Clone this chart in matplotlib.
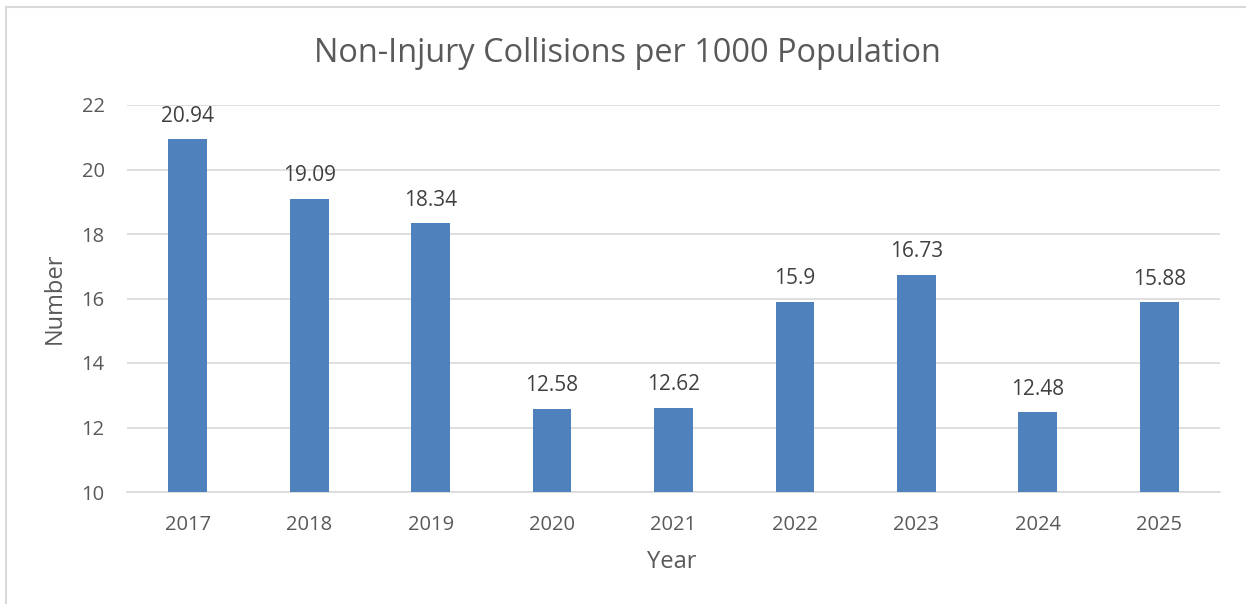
import matplotlib
matplotlib.use("Agg")
import matplotlib.pyplot as plt
from matplotlib.patches import Rectangle

years = ["2017", "2018", "2019", "2020", "2021", "2022", "2023", "2024", "2025"]
values = [20.94, 19.09, 18.34, 12.58, 12.62, 15.9, 16.73, 12.48, 15.88]
value_labels = ["20.94", "19.09", "18.34", "12.58", "12.62", "15.9", "16.73", "12.48", "15.88"]
yticks = [10, 12, 14, 16, 18, 20, 22]

plt.rcParams['font.family'] = ['Open Sans', 'DejaVu Sans']

fig = plt.figure(figsize=(12.46, 6.04), dpi=100)
fig.patch.set_facecolor("white")

# outer chart border
fig.patches.append(Rectangle((6/1246, -0.05), 1.2, (604-7)/604 + 0.05,
                             transform=fig.transFigure, fill=False,
                             edgecolor="#d9d9d9", linewidth=1.5))

ax = fig.add_axes([127/1246, (604-492)/604, (1220-127)/1246, (492-105)/604])
x = list(range(len(years)))
ax.bar(x, [v - 10 for v in values], bottom=10, width=0.32, color="#4f81bd", zorder=3)
ax.set_xlim(-0.5, len(years) - 0.5)
ax.set_ylim(10, 22)
ax.set_yticks(yticks)
ax.set_yticklabels([str(t) for t in yticks])
ax.set_xticks(x)
ax.set_xticklabels(years)
ax.grid(axis="y", color="#d9d9d9", linewidth=1.2, zorder=0)
for s in ["top", "right", "left"]:
    ax.spines[s].set_visible(False)
ax.spines["bottom"].set_color("#d9d9d9")
ax.spines["bottom"].set_linewidth(1.2)
ax.tick_params(axis="both", length=0, labelsize=14.5, colors="#595959")
ax.tick_params(axis="x", pad=16.5)
ax.tick_params(axis="y", pad=16)

for xi, v, lab in zip(x, values, value_labels):
    ax.annotate(lab, (xi, v), xytext=(0, 9), textcoords="offset points",
                ha="center", va="bottom", fontsize=15, color="#404040")

fig.text(672/1246, 1 - 562/604, "Year", ha="center", va="center",
         fontsize=17, color="#595959")
fig.text(55/1246, 1 - 298/604, "Number", ha="center", va="center",
         rotation=90, fontsize=17, color="#595959")
fig.text(627/1246, 1 - 53/604, "Non-Injury Collisions per 1000 Population",
         ha="center", va="center", fontsize=23.4, color="#595959")

fig.savefig("out.png", dpi=100)
